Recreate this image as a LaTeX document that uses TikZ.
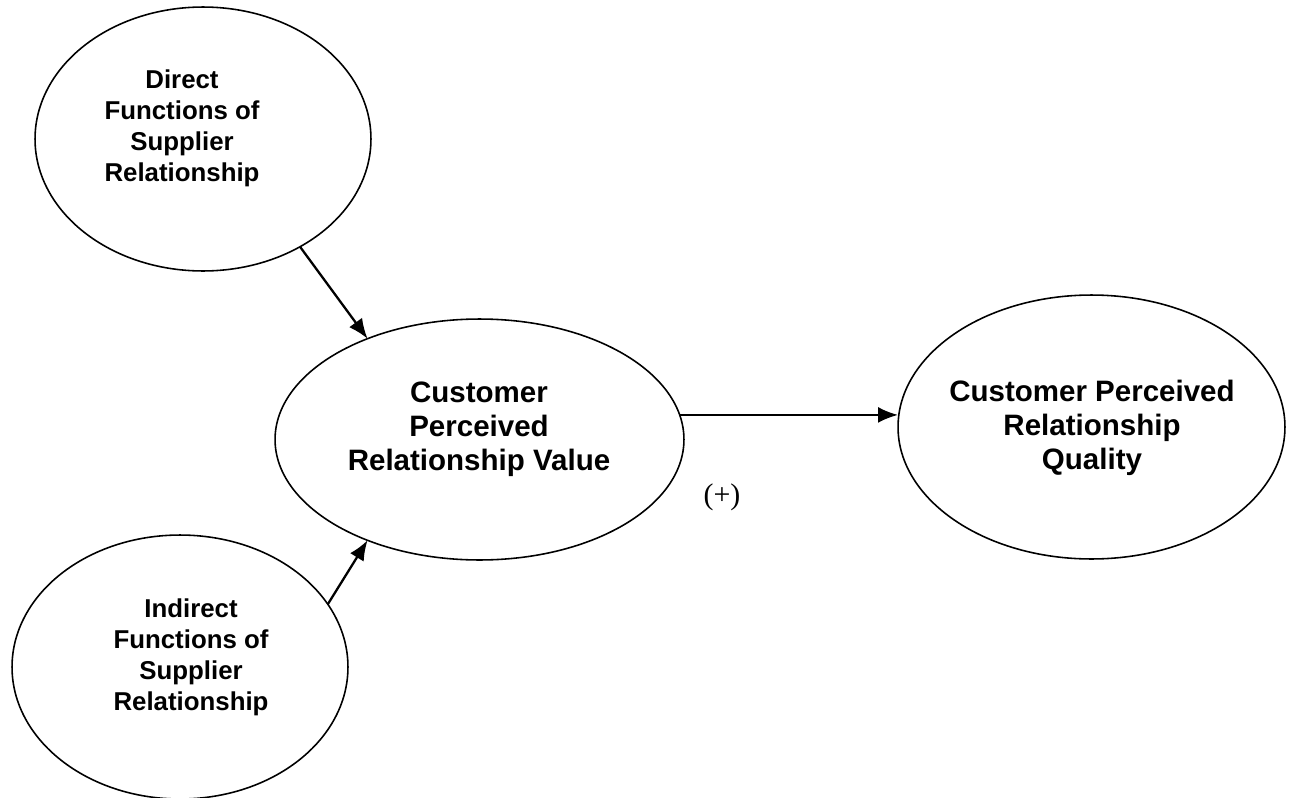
\documentclass[tikz,border=0pt]{standalone}
\usepackage{fontspec}
\setmainfont{Liberation Sans}
\newfontfamily\timesfont{Liberation Serif}
\usepackage{tikz}
\usetikzlibrary{shapes.geometric, arrows.meta}
\usetikzlibrary{positioning}

\tikzset{
    oval/.style={draw, ellipse, line width=0.9pt, inner sep=0pt, outer sep=0pt},
    lblsmall/.style={align=center, font=\fontsize{14.7}{17.6}\selectfont\bfseries},
    lblbig/.style={align=center, font=\fontsize{16.8}{19.4}\selectfont\bfseries},
    arr/.style={-{Latex[length=0.4cm, width=0.32cm]}, line width=1.3pt}
}

\begin{document}
\begin{tikzpicture}[x=0.02cm, y=-0.02cm]
        \useasboundingbox (0,0) rectangle (1289,798);
        \node[oval, minimum width=6.72cm, minimum height=5.28cm] (dfs) at (203,139) {};
        \node[oval, minimum width=8.18cm, minimum height=4.82cm] (cprv) at (479.5,439.5) {};
        \node[oval, minimum width=7.74cm, minimum height=5.28cm] (cprq) at (1091.5,427) {};
        \node[oval, minimum width=6.72cm, minimum height=5.28cm] (ifs) at (180,667) {};
        \node[lblsmall] (dfstext) at (182,128) {Direct\\Functions of\\Supplier\\Relationship};
        \node[lblbig] (cprvtext) at (479,429) {Customer\\Perceived\\Relationship Value};
        \node[lblbig] (cprqtext) at (1092,428) {Customer Perceived\\Relationship\\Quality};
        \node[lblsmall] (ifstext) at (191,657) {Indirect\\Functions of\\Supplier\\Relationship};
        \node[font=\timesfont\fontsize{17}{20}\selectfont] (sign) at (722,497) {(+)};
        \path[arr]
            (dfs.-48) edge (cprv.138)
            (ifs.23) edge (cprv.-138)
            (cprv.7) edge (cprv.7 -| cprq.west);
    \end{tikzpicture}
\end{document}
